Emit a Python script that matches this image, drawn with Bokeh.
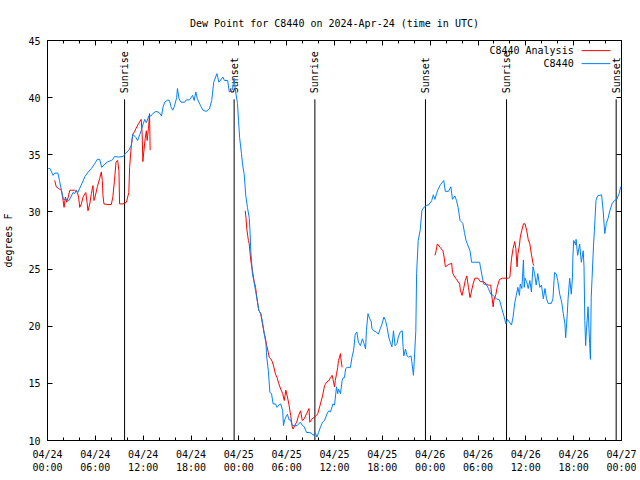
from bokeh.plotting import figure
from bokeh.models import FixedTicker, LinearAxis, Range1d
from bokeh.core.properties import value
from bokeh.embed import file_html
from bokeh.resources import INLINE
import math

NaN = float("nan")
TITLE = "Dew Point for C8440 on 2024-Apr-24 (time in UTC)"
Y_LABEL = "degrees F"

# hours since 2024-04-24 00:00 UTC
x_tick_hours = [0, 6, 12, 18, 24, 30, 36, 42, 48, 54, 60, 66, 72]
x_tick_labels = ["04/24\n00:00", "04/24\n06:00", "04/24\n12:00", "04/24\n18:00",
                 "04/25\n00:00", "04/25\n06:00", "04/25\n12:00", "04/25\n18:00",
                 "04/26\n00:00", "04/26\n06:00", "04/26\n12:00", "04/26\n18:00",
                 "04/27\n00:00"]
y_ticks = [10, 15, 20, 25, 30, 35, 40, 45]

sun_hours = [9.67, 23.41, 33.54, 47.41, 57.58, 71.33]
sun_labels = ["Sunrise", "Sunset", "Sunrise", "Sunset", "Sunrise", "Sunset"]

obs_hours = [0.1, 0.3, 0.7, 0.9, 1.3, 1.5, 1.8, 2.0, 2.4, 2.7, 3.0, 3.2, 3.4, 3.6, 3.8,
             4.2, 4.7, 5.1, 5.5, 5.9, 6.25, 6.55, 6.8, 7.2, 7.6, 8.0, 8.2, 8.4, 8.9, 9.5,
             9.75, 10.2, 10.5, 10.7, 11.1, 11.3, 11.75, 11.95, 12.2, 12.4, 12.7, 13.0, 13.2,
             13.6, 14.0, 14.3, 14.5, 14.7, 15.1, 15.3, 15.5, 15.7, 15.9, 16.2, 16.3, 16.5,
             16.75, 17.2, 17.4, 17.8, 18.2, 18.4, 18.6, 18.8, 19.2, 19.5, 19.9, 20.3, 20.6,
             20.85, 21.25, 21.5, 22.0, 22.2, 22.6, 22.8, 23.2, 23.4, 23.6, 23.83, 23.96,
             24.1, 24.33, 24.46, 24.67, 24.875, 25.08, 25.3, 25.4, 25.5, 25.7, 25.9, 26.1,
             26.3, 26.5, 26.75, 26.96, 27.2, 27.4, 27.5, 27.7, 27.9, 28.1, 28.3, 28.6, 28.8,
             29.0, 29.25, 29.5, 29.6, 29.75, 29.9, 30.1, 30.3, 30.5, 30.7, 31.0, 31.3, 31.7,
             32.0, 32.2, 32.5, 32.8, 33.1, 33.3, 33.6, 33.8, 34.0, 34.25, 34.5, 34.75, 35.1,
             35.3, 35.5, 35.8, 36.0, 36.1, 36.25, 36.4, 36.5, 36.75, 36.96, 37.1, 37.25,
             37.4, 37.6, 38.0, 38.2, 38.4, 38.6, 38.8, 39.0, 39.25, 39.5, 39.7, 39.9, 40.0,
             40.2, 40.4, 40.6, 40.7, 40.9, 41.25, 41.5, 41.75, 41.96, 42.2, 42.4, 42.6, 42.8,
             43.0, 43.2, 43.4, 43.6, 43.85, 44.0, 44.25, 44.5, 44.6, 44.7, 44.9, 45.1, 45.3,
             45.6, 45.7, 45.9, 46.0, 46.2, 46.3, 46.5, 46.75, 46.96, 47.2, 47.6, 47.8, 48.2,
             48.4, 48.6, 48.8, 49.0, 49.3, 49.7, 49.9, 50.3, 50.6, 50.8, 51.1, 51.3, 51.5,
             51.75, 52.1, 52.3, 52.5, 53.0, 53.2, 53.6, 54.2, 54.3, 54.7, 55.1, 55.3, 55.6,
             55.9, 56.3, 56.7, 57.0, 57.25, 57.5, 57.7, 57.9, 58.2, 58.4, 58.6, 58.8, 59.0,
             59.2, 59.3, 59.5, 59.7, 59.8, 59.9, 60.1, 60.3, 60.5, 60.7, 60.9, 61.1, 61.3,
             61.5, 61.75, 61.96, 62.2, 62.4, 62.6, 62.8, 63.2, 63.4, 63.6, 63.8, 64.0, 64.25,
             64.5, 64.7, 64.9, 65.0, 65.2, 65.3, 65.5, 65.7, 65.85, 65.9, 66.0, 66.25, 66.3,
             66.5, 66.75, 66.96, 67.2, 67.3, 67.4, 67.5, 67.6, 67.8, 68.0, 68.1, 68.2, 68.3,
             68.5, 68.6, 68.8, 69.0, 69.5, 69.7, 69.9, 70.1, 70.3, 70.5, 70.8, 71.1, 71.4,
             71.7, 71.9]
obs_dew = [33.8, 33.8, 33.2, 33.4, 33.4, 32.75, 31.7, 31.1, 31.1, 31.0, 31.4, 31.7, 31.6, 31.9, 31.7,
           32.3, 33.1, 33.5, 33.8, 34.2, 34.6, 34.6, 33.9, 34.2, 34.4, 34.5, 34.6, 34.85, 34.8, 34.85,
           35.1, 35.4, 35.8, 36.8, 36.5, 36.25, 37.1, 37.6, 38.1, 37.8, 38.4, 38.4, 38.6,
           38.8, 38.7, 38.4, 39.2, 39.6, 39.8, 39.75, 39.2, 38.9, 39.2, 40.0, 40.8, 39.9,
           39.6, 39.6, 39.8, 39.8, 40.2, 39.75, 40.5, 39.9, 39.3, 38.9, 38.8, 39.0, 39.75,
           41.35, 42.1, 41.35, 41.8, 41.5, 41.5, 40.5, 40.7, 41.7, 40.5, 39.5, 38.0,
           36.5, 35.1, 34.2, 33.3, 31.4, 30.4, 29.5, 28.4, 26.6, 24.6, 23.9, 23.1,
           22.3, 21.4, 21.1, 20.4, 19.3, 18.5, 17.3, 16.1, 14.2, 14.1, 13.2, 13.2, 12.9,
           13.1, 13.2, 12.6, 11.3, 11.8, 12.05, 12.3, 11.8, 11.8, 11.3, 11.3, 11.3, 11.6,
           11.3, 11.2, 10.7, 10.7, 10.65, 10.45, 10.65, 10.3, 10.7, 11.2, 11.6, 11.75, 12.4,
           12.6, 12.5, 13.2, 13.1, 13.7, 14.7, 14.1, 14.5, 14.1, 15.25, 15.5, 15.5,
           16.3, 16.4, 16.4, 17.3, 17.9, 19.3, 19.5, 18.6, 18.3, 18.9, 18.5, 18.0, 19.6,
           21.1, 20.7, 20.4, 19.8, 19.6, 19.5, 19.3, 19.8, 20.2, 20.8, 20.5, 19.9, 19.05,
           18.6, 18.2, 19.6, 18.3, 18.5, 19.05, 19.5, 19.6, 18.2, 17.4, 18.0, 17.4, 17.3,
           17.4, 16.9, 15.7, 16.9, 19.6, 24.6, 27.5, 28.4, 30.1, 30.4, 30.6, 30.6, 31.0,
           31.5, 31.1, 31.6, 32.0, 32.4, 32.75, 31.8, 31.8, 32.2, 31.1, 31.4, 31.0, 30.4,
           29.25, 29.0, 28.2, 27.5, 26.6, 25.6, 25.6, 25.6, 25.2, 23.7, 23.6, 23.3, 22.8,
           22.7, 22.4, 22.3, 21.5, 20.9, 20.2, 20.6, 20.4, 20.1, 20.8, 22.0, 22.7, 23.4,
           22.7, 23.7, 23.3, 25.8, 23.4, 24.2, 23.9, 23.3, 24.0, 23.0, 25.2, 24.6, 23.6,
           24.6, 23.4, 23.6, 22.4, 23.3, 22.4, 22.0, 22.0, 22.4, 24.7, 24.6, 24.0, 22.8,
           22.1, 21.1, 20.2, 19.0, 21.1, 22.4, 24.2, 22.8, 24.3, 26.0, 27.5, 27.1, 27.6,
           26.2, 27.2, 25.6, 26.6, 25.2, 20.5, 18.3, 19.6, 21.7, 18.5, 17.1, 22.5, 24.1,
           27.2, 28.4, 31.0, 31.4, 31.5, 30.1, 28.1, 29.0, 29.4, 30.0, 30.7, 31.0, 31.1,
           31.6, 32.2]

ana_hours = [0.9, 1.1, 1.5, 1.75, 1.96, 2.08, 2.25, 2.4, 2.6, 2.8, 3.0, 3.4, 3.75, 3.9, 4.04,
             4.25, 4.46, 4.8, 4.96, 5.08, 5.3, 5.5, 5.7, 5.83, 6.0, 6.25, 6.54, 6.75, 6.875,
             6.96, 7.08, 7.5, 8.0, 8.2, 8.4, 8.6, 8.8, 8.96, 9.04, 9.46, 9.9, 10.2, 10.3,
             10.5, 10.7, 10.9, 11.1, 11.4, 11.75, 11.875, 11.96, 12.1, 12.25, 12.4, 12.5,
             12.7, 12.8, 12.875,
             NaN,
             24.8, 24.9, 25.0, 25.2, 25.3, 25.5, 25.7, 25.9, 26.1, 26.25, 26.5, 26.75, 26.96,
             27.2, 27.3, 27.5, 27.7, 27.8, 28.0, 28.2, 28.4, 28.6, 28.8, 29.0, 29.25, 29.5,
             29.7, 29.9, 30.1, 30.3, 30.5, 30.7, 30.8, 31.0, 31.25, 31.5, 31.75, 31.96, 32.2,
             32.5, 32.8, 32.9, 33.2, 33.5, 33.75, 33.9, 34.2, 34.5, 34.75, 35.0, 35.3, 35.5,
             35.7, 35.8, 36.0, 36.1, 36.25, 36.4, 36.5, 36.75, 36.8, 36.96,
             NaN,
             48.6, 48.75, 48.9, 49.25, 49.6, 49.75, 49.9, 50.3, 50.7, 50.8, 51.0, 51.3, 51.7,
             51.8, 52.0, 52.2, 52.4, 52.6, 52.8, 53.0, 53.1, 53.35, 53.6, 54.0, 54.3, 54.7,
             55.0, 55.3, 55.6, 55.7, 55.8, 55.9, 56.0, 56.25, 56.4, 56.7, 57.1, 57.5, 57.8,
             58.0, 58.2, 58.4, 58.6, 58.75, 58.9, 59.0, 59.2, 59.3, 59.5, 59.7, 59.9, 60.1,
             60.3, 60.5, 60.7, 60.9, 61.0]
ana_dew = [32.75, 32.2, 32.0, 31.9, 31.0, 30.4, 31.3, 30.85, 31.3, 31.9, 31.9, 31.9, 31.7, 31.3, 30.4,
           30.7, 31.3, 31.7, 30.85, 30.1, 30.7, 31.6, 32.3, 31.0, 31.4, 32.2, 32.9, 33.5, 32.75,
           31.4, 30.7, 30.65, 30.65, 31.3, 32.75, 34.4, 34.5, 33.6, 30.7, 30.7, 30.85, 31.7, 33.9,
           35.7, 36.8, 37.0, 37.3, 37.7, 38.1, 36.8, 34.4, 35.4, 36.4, 37.1, 36.25,
           37.6, 38.6, 35.4,
           NaN,
           30.1, 29.5, 28.5, 27.5, 27.2, 25.75, 24.9, 24.0, 23.4, 22.55, 21.4, 21.1, 20.2,
           19.3, 19.05, 18.3, 17.7, 17.3, 17.15, 16.9, 16.4, 15.8, 15.5, 15.0, 14.5, 14.1,
           13.5, 14.4, 13.8, 13.1, 12.2, 11.2, 11.0, 11.3, 11.6, 12.2, 12.6, 11.75, 11.9,
           12.35, 12.8, 11.6, 11.9, 12.05, 12.2, 12.35, 13.1, 13.9, 14.8, 15.1, 15.25, 15.5,
           15.7, 15.4, 14.7, 15.25, 15.8, 16.4, 17.0, 17.6, 17.15, 16.4,
           NaN,
           26.2, 26.6, 27.2, 26.9, 26.6, 26.05, 25.2, 25.4, 25.5, 24.7, 24.4, 24.1, 23.7,
           23.1, 22.7, 23.3, 24.0, 24.4, 23.4, 22.5, 22.8, 23.6, 24.2, 24.2, 23.9, 23.9,
           23.7, 23.6, 23.6, 22.8, 22.3, 21.7, 22.3, 22.8, 23.4, 24.1, 24.2, 24.2, 24.2,
           24.3, 25.9, 26.8, 27.4, 26.8, 25.2, 26.3, 27.1, 27.8, 28.4, 28.96, 28.96, 28.4,
           27.6, 27.2, 26.3, 25.5, 25.3]

series_names = ["C8440 Analysis", "C8440"]
series_colors = ["#ff0000", "#0080ff"]

X_START, X_END = 0, 72
Y_START, Y_END = 10, 45

FONT = "DejaVu Sans Mono"
FS = "10px"

p = figure(width=636, height=476, title=TITLE,
           x_range=Range1d(X_START, X_END), y_range=Range1d(Y_START, Y_END),
           output_backend="svg", toolbar_location=None,
           min_border_left=46, min_border_right=15, min_border_top=40, min_border_bottom=36)

p.title.text_font = FONT
p.title.text_font_size = FS
p.title.text_font_style = "normal"
p.title.align = "center"
p.title.text_color = "black"
p.title.standoff = 23

p.grid.visible = False
p.outline_line_color = "black"
p.outline_line_alpha = 1.0
p.background_fill_color = "white"
p.border_fill_color = "white"

xticker = FixedTicker(ticks=x_tick_hours, minor_ticks=list(range(0, 73, 2)))
yticker = FixedTicker(ticks=y_ticks, minor_ticks=[])


def style_axis(ax, show_labels):
    ax.axis_line_color = "black"
    ax.major_tick_line_color = "black"
    ax.minor_tick_line_color = "black"
    ax.major_tick_in = 5
    ax.major_tick_out = 0
    ax.minor_tick_in = 3
    ax.minor_tick_out = 0
    ax.major_label_text_font = FONT
    ax.major_label_text_font_size = FS
    if show_labels:
        ax.major_label_text_color = "black"
    else:
        ax.major_label_text_color = None
        ax.major_label_standoff = 0


xa = p.xaxis[0]
xa.ticker = xticker
xa.major_label_overrides = {h: lab for h, lab in zip(x_tick_hours, x_tick_labels)}
style_axis(xa, True)
xa.major_label_standoff = 8
xa.major_label_text_line_height = 1.25

ya = p.yaxis[0]
ya.ticker = yticker
style_axis(ya, True)
ya.major_label_standoff = 7
ya.axis_label = Y_LABEL
ya.axis_label_text_font = FONT
ya.axis_label_text_font_size = FS
ya.axis_label_text_font_style = "normal"
ya.axis_label_text_color = "black"
ya.axis_label_standoff = 11

top_ax = LinearAxis(ticker=xticker)
style_axis(top_ax, False)
p.add_layout(top_ax, "above")
right_ax = LinearAxis(ticker=yticker)
style_axis(right_ax, False)
p.add_layout(right_ax, "right")

# sunrise / sunset markers
sun_top = Y_END - 0.147 * (Y_END - Y_START)
sun_label_y = Y_END - 0.132 * (Y_END - Y_START)
p.segment(x0=sun_hours, y0=[Y_START] * len(sun_hours), x1=sun_hours, y1=[sun_top] * len(sun_hours),
          line_color="black", line_width=1)
p.text(x=sun_hours, y=[sun_label_y] * len(sun_hours), text=sun_labels, angle=math.pi / 2,
       text_align="left", text_baseline="middle", text_font=value(FONT),
       text_font_size=FS, text_color="black")

# data series
p.line(ana_hours, ana_dew, line_color=series_colors[0], line_width=1)
p.line(obs_hours, obs_dew, line_color=series_colors[1], line_width=1)

# key (gnuplot style: text then sample line)
key_text_x = X_END - 6.0
key_line_x0 = X_END - 5.0
key_line_x1 = X_END - 1.4
key_rows = [Y_END - 0.0253 * (Y_END - Y_START), Y_END - 0.0578 * (Y_END - Y_START)]
p.text(x=[key_text_x] * 2, y=key_rows, text=series_names, text_align="right",
       text_baseline="middle", text_font=value(FONT), text_font_size=FS, text_color="black")
p.segment(x0=[key_line_x0] * 2, y0=key_rows, x1=[key_line_x1] * 2, y1=key_rows,
          line_color=series_colors, line_width=1)

open("out.html", "w").write(file_html(p, INLINE))
